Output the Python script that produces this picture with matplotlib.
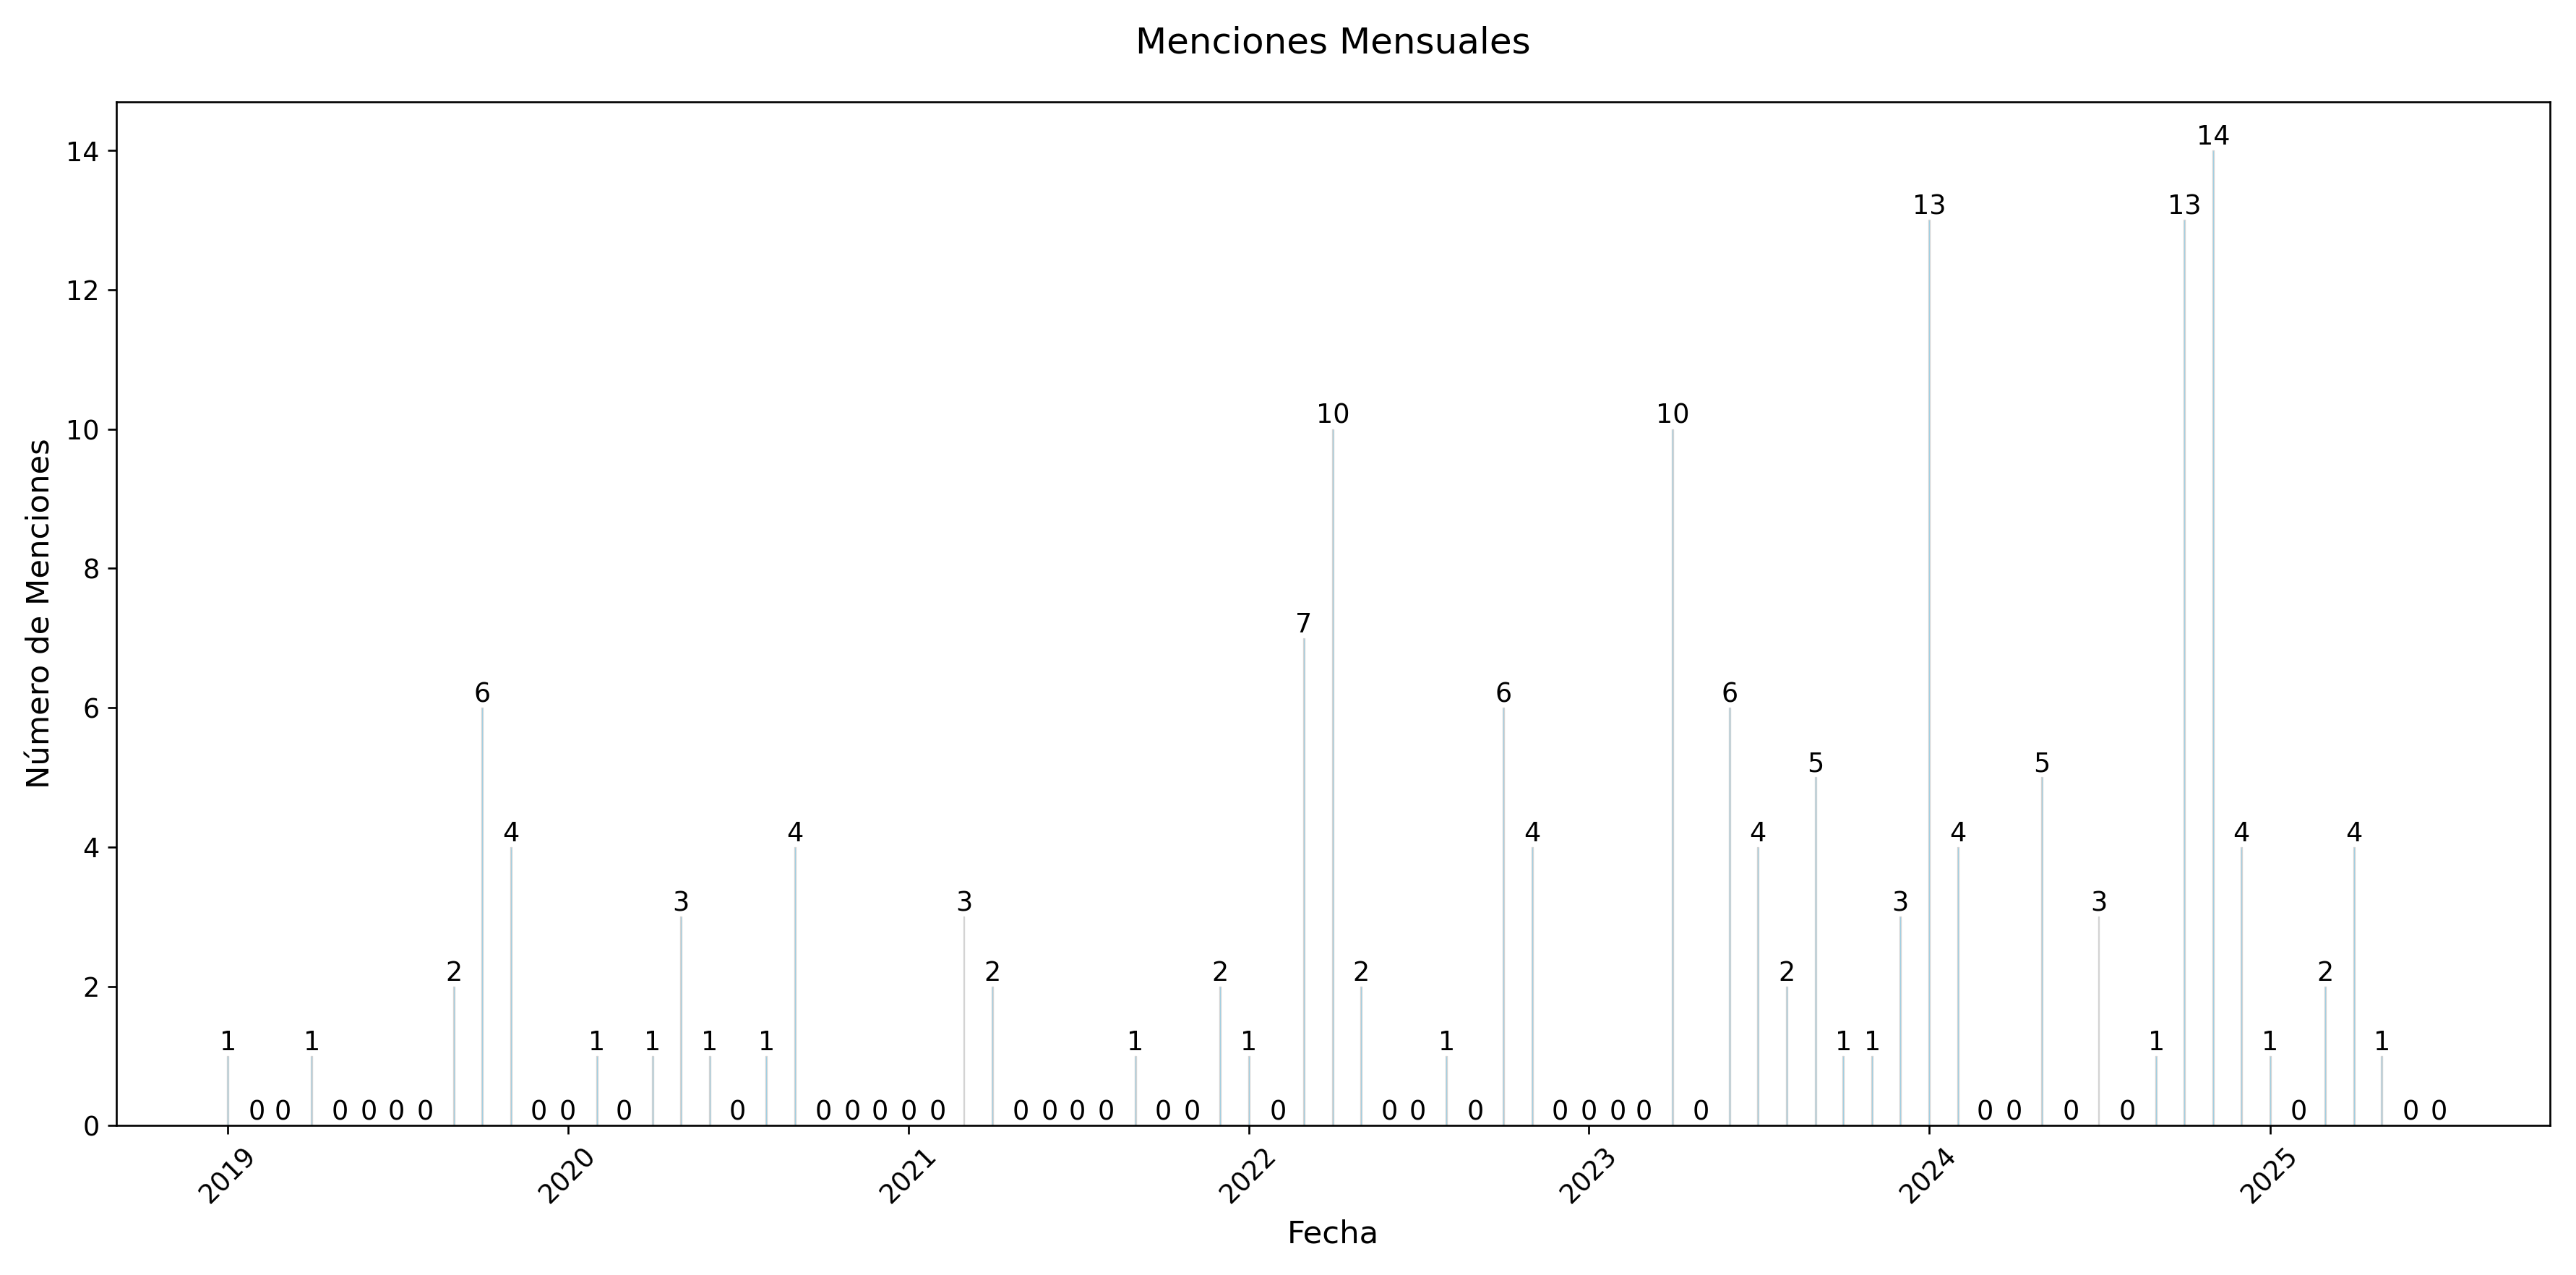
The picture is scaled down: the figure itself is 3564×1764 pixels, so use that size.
import matplotlib.pyplot as plt
import pandas as pd

fechas = pd.date_range('2019-01-01', '2025-07-01', freq='MS')
menciones = [1, 0, 0, 1, 0, 0, 0, 0, 2, 6, 4, 0,
             0, 1, 0, 1, 3, 1, 0, 1, 4, 0, 0, 0,
             0, 0, 3, 2, 0, 0, 0, 0, 1, 0, 0, 2,
             1, 0, 7, 10, 2, 0, 0, 1, 0, 6, 4, 0,
             0, 0, 0, 10, 0, 6, 4, 2, 5, 1, 1, 3,
             13, 4, 0, 0, 5, 0, 3, 0, 1, 13, 14, 4,
             1, 0, 2, 4, 1, 0, 0]

fig, ax = plt.subplots(figsize=(14.85, 7.35), dpi=240)
ax.bar(fechas, menciones, width=1.5, color='skyblue', edgecolor='lightgray', linewidth=0.4)

for f, v in zip(fechas, menciones):
    ax.text(f, v, str(v), ha='center', va='bottom', fontsize=11)

ax.set_title('Menciones Mensuales', fontsize=15, pad=20)
ax.set_xlabel('Fecha', fontsize=13)
ax.set_ylabel('Número de Menciones', fontsize=13)
ax.tick_params(axis='both', labelsize=11)
for tick in ax.get_xticklabels():
    tick.set_rotation(45)
ax.set_ylim(0, 14.7)
plt.tight_layout()
plt.savefig('out.png', dpi=240)
